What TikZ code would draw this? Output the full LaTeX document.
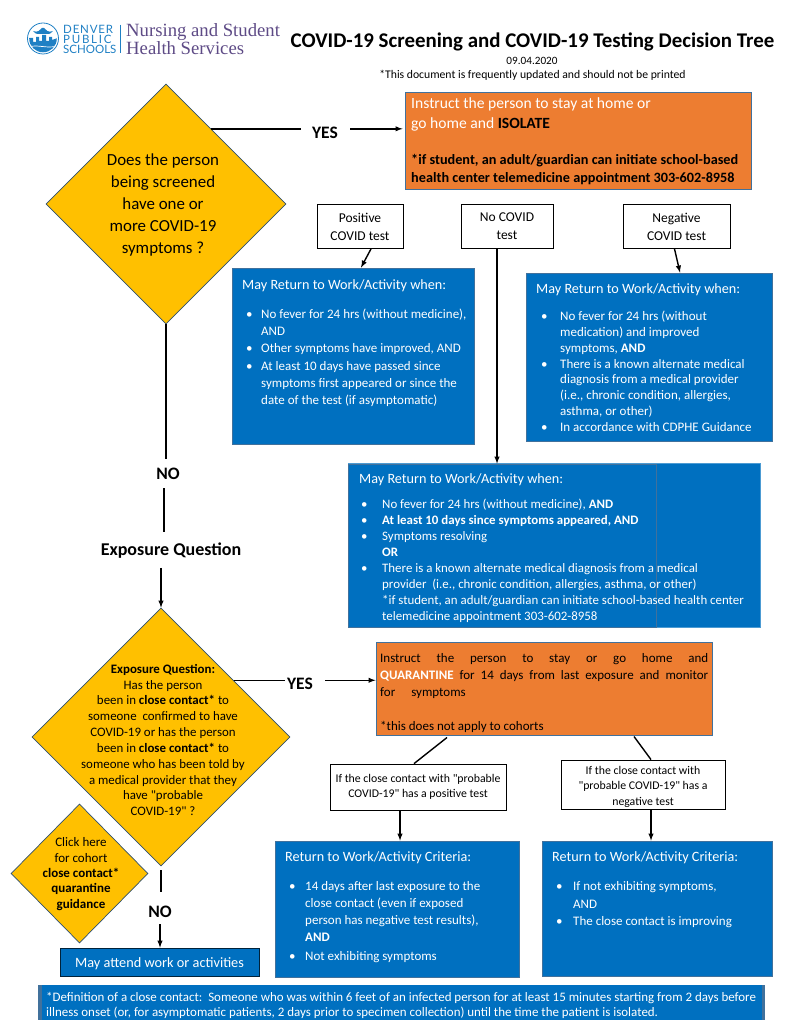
\documentclass[tikz,border=0pt]{standalone}
\usepackage{fontspec}
\setmainfont{Carlito}[Ligatures=TeXOff]
\newfontfamily\LOGOSANS{Lato}
\newfontfamily\LOGOSERIF{Liberation Serif}
\usetikzlibrary{shapes.geometric}
\definecolor{boxblue}{HTML}{0070C0}
\definecolor{boxedge}{HTML}{41719C}
\definecolor{boxorange}{HTML}{ED7D31}
\definecolor{boxgold}{HTML}{FFC000}
\definecolor{logoblue}{HTML}{1F80C4}
\definecolor{logopurple}{HTML}{5E4B86}
\newcommand{\BUL}[2]{\par\raggedright\spaceskip=.226em\hangindent=#1pt\hangafter=1\noindent\hbox to #1pt{\textbullet\hfil}#2\par}
\tikzset{
	bluebox/.style={rectangle,draw=boxedge,fill=boxblue,line width=0.8pt,inner sep=0pt},
	orangebox/.style={rectangle,draw=boxedge,fill=boxorange,line width=1pt,inner sep=0pt},
	whitebox/.style={rectangle,draw=black,fill=white,line width=0.8pt,inner sep=0pt,align=center,font=\fontsize{11.8}{15.5}\selectfont},
	testbox/.style={whitebox,minimum height=44pt,font=\fontsize{13.5}{18}\selectfont},
	goldgem/.style={diamond,draw=boxedge!70!black,fill=boxgold,line width=0.7pt,inner sep=0pt,aspect=1},
	bluetext/.style={anchor=north west,inner sep=0pt,text=white,align=left},
	listtext/.style={anchor=north west,inner sep=0pt,text=white},
	headtext/.style={bluetext,font=\fontsize{14.2}{17}\selectfont},
	gemtext/.style={inner sep=0pt,align=center,text=black},
	flowlabel/.style={inner sep=0pt,font=\fontsize{17.5}{20}\selectfont\bfseries},
	plainline/.style={draw=black,line width=1.4pt},
	arrowline/.style={draw=black,line width=1.4pt,-latex},
}
\begin{document}
\begin{tikzpicture}[x=1pt,y=-1pt]
	\useasboundingbox (0,0) rectangle (791,1024);

	% logo
	\node[circle,draw=logoblue,line width=0.8pt,minimum size=31pt,inner sep=0pt] (logoring) at (43,38.5) {};
	\begin{scope}
		\clip (43,38.5) circle (13.8);
		\fill[logoblue] (28,38) -- (33,38) -- (33,42) -- (36,42) -- (36,37) -- (39,37) -- (39,41) -- (42,41) -- (42,35) -- (46,35) -- (46,41) -- (49,41) -- (49,37) -- (52,37) -- (52,40) -- (58,38) -- (58,55) -- (28,55) -- cycle;
		\draw[white,line width=0.7pt] (29,47) .. controls (37,44) and (47,49) .. (57,46);
	\end{scope}
	\fill[logoblue] (33,31) .. controls (38,33) and (40,30) .. (42,28) -- (44,28) .. controls (46,30) and (48,33) .. (53,31) .. controls (50,35) and (47,34) .. (45,34) -- (41,34) .. controls (39,34) and (36,35) .. (33,31) -- cycle;
	\node[inner sep=0pt,anchor=west,text=logoblue,font=\fontsize{11.5}{9.9}\selectfont,align=left] (logoname) at (63,39.5) {{\LOGOSANS\addfontfeature{LetterSpace=7}DENVER}\\{\LOGOSANS\addfontfeature{LetterSpace=15}PUBLIC}\\{\LOGOSANS SCHOOLS}};
	\node[inner sep=0pt,anchor=west,text=logopurple,font=\LOGOSERIF\fontsize{18.7}{18.5}\selectfont,align=left] (logounit) at (126,39) {Nursing and Student\\Health Services};
	\draw[logoblue,line width=0.6pt] ([xshift=-6pt]logounit.west |- logoring.north) ++(0,2) -- ++(0,28);

	% title
	\node[inner sep=0pt,font=\fontsize{20.9}{24}\selectfont\bfseries] (title) at (532.5,41.5) {COVID-19 Screening and COVID-19 Testing Decision Tree};
	\node[inner sep=0pt,font=\fontsize{11.2}{13}\selectfont] (date) at (532,60.5) {09.04.2020};
	\node[inner sep=0pt,font=\fontsize{11.7}{13}\selectfont] (note) at (532.5,75) {*This document is frequently updated and should not be printed};

	% first question
	\node[goldgem,minimum width=240pt,minimum height=240pt] (symptoms) at (166,204) {};
	\node[gemtext,font=\fontsize{16.9}{21.8}\selectfont] (symptomstext) at (163,205) {Does the person\\being screened\\have one or\\more COVID-19\\symptoms ?};
	\node[flowlabel] (yesone) at (325,133) {YES};
	\node[orangebox,minimum width=346pt,minimum height=97pt] (isolate) at (578,141.5) {};
	\node[bluetext,font=\fontsize{15.6}{20.8}\selectfont] (isolatetop) at (411,97) {Instruct the person to stay at home or\\go home and \textcolor{black}{\textbf{ISOLATE}}};
	\node[bluetext,text=black,font=\fontsize{14.25}{18}\selectfont\bfseries] (isolatebot) at (411,154) {*if student, an adult/guardian can initiate school-based\\health center telemedicine appointment 303-602-8958};

	% test results
	\node[testbox,minimum width=86pt] (postest) at (360,226.5) {Positive\\COVID test};
	\node[testbox,minimum width=92pt] (notest) at (507,226.5) {No COVID\\test};
	\node[testbox,minimum width=107pt] (negtest) at (676.5,226.5) {Negative\\COVID test};

	% return boxes
	\node[bluebox,minimum width=242pt,minimum height=176pt] (retpos) at (353,356) {};
	\node[headtext] (retposhead) at (242,279) {May Return to Work/Activity when:};
	\node[listtext,text width=225pt,font=\fontsize{13}{17.2}\selectfont] (retpostext) at (246,301) {%
		\BUL{15}{No fever for 24 hrs (without medicine),\newline AND}
		\BUL{15}{Other symptoms have improved, AND}
		\BUL{15}{At least 10 days have passed since\newline symptoms first appeared or since the\newline date of the test (if asymptomatic)}};

	\node[bluebox,minimum width=246pt,minimum height=168pt] (retneg) at (649,357) {};
	\node[headtext] (retneghead) at (536,283) {May Return to Work/Activity when:};
	\node[listtext,text width=229pt,font=\fontsize{13}{15.75}\selectfont] (retnegtext) at (541,305) {%
		\BUL{19}{No fever for 24 hrs (without\newline medication) and improved\newline symptoms, \textbf{AND}}
		\BUL{19}{There is a known alternate medical\newline diagnosis from a medical provider\newline (i.e., chronic condition, allergies,\newline asthma, or other)}
		\BUL{19}{In accordance with CDPHE Guidance}};

	\node[rectangle,fill=boxblue,draw=boxblue!70!white,line width=0.6pt,minimum width=412pt,minimum height=164pt,inner sep=0pt] (retnoback) at (554,545.5) {};
	\node[bluebox,minimum width=308pt,minimum height=163pt] (retno) at (502,545.5) {};
	\node[headtext] (retnohead) at (359,473) {May Return to Work/Activity when:};
	\node[listtext,text width=396pt,font=\fontsize{12.9}{16}\selectfont] (retnotext) at (361,492) {%
		\BUL{21}{No fever for 24 hrs (without medicine), \textbf{AND}}
		\BUL{21}{\textbf{At least 10 days since symptoms appeared, AND}}
		\BUL{21}{Symptoms resolving\newline\textbf{OR}}
		\BUL{21}{There is a known alternate medical diagnosis from a medical\newline provider\ \ (i.e., chronic condition, allergies, asthma, or other)\newline *if student, an adult/guardian can initiate school-based health center\newline telemedicine appointment 303-602-8958}};

	% first branch down
	\node[flowlabel] (noone) at (168,474) {NO};
	\node[inner sep=0pt,font=\fontsize{18}{20}\selectfont\bfseries] (exposurelabel) at (171,551) {Exposure Question};

	% second question
	\node[goldgem,minimum width=258pt,minimum height=258pt] (exposure) at (161,737) {};
	\node[gemtext,font=\fontsize{12.9}{15.8}\selectfont] (exposuretext) at (163,740) {\textbf{Exposure Question:}\\Has the person\\been in \textbf{close contact*} to\\someone\ \ confirmed to have\\COVID-19 or has the person\\been in \textbf{close contact*} to\\someone who has been told by\\a medical provider that they\\have "probable\\COVID-19" ?};
	\node[flowlabel] (yestwo) at (300,684) {YES};
	\node[orangebox,minimum width=336pt,minimum height=93pt] (quarantine) at (544,688.5) {};
	\node[bluetext,text=black,font=\fontsize{13}{17}\selectfont] (quarantinetext) at (380,653.5) {%
		\makebox[328pt][s]{Instruct the person to stay or go home and}\\
		\makebox[328pt][s]{\textcolor{white}{\textbf{QUARANTINE}} for 14 days from last exposure and monitor}\\
		for\hspace{16pt}symptoms\\[17pt]
		*this does not apply to cohorts};

	\node[whitebox,minimum width=176pt,minimum height=46pt] (probpos) at (418,787) {If the close contact with "probable\\COVID-19" has a positive test};
	\node[whitebox,minimum width=164pt,minimum height=49pt] (probneg) at (643,784.5) {};
	\node[gemtext,font=\fontsize{11.8}{15.5}\selectfont] (probnegtext) at (643,786.5) {If the close contact with\\"probable COVID-19" has a\\negative test};

	\node[bluebox,minimum width=244pt,minimum height=136pt] (critpos) at (397,909) {};
	\node[headtext] (critposhead) at (285,851) {Return to Work/Activity Criteria:};
	\node[listtext,text width=225pt,font=\fontsize{13}{17}\selectfont] (critpostext) at (289,873) {%
		\BUL{16}{14 days after last exposure to the\newline close contact (even if exposed\newline person has negative test results),\newline\textbf{AND}}
		\vspace{2pt}
		\BUL{16}{Not exhibiting symptoms}};

	\node[bluebox,minimum width=230pt,minimum height=135pt] (critneg) at (657,908.5) {};
	\node[headtext] (critneghead) at (552,851) {Return to Work/Activity Criteria:};
	\node[listtext,text width=210pt,font=\fontsize{13}{17.5}\selectfont] (critnegtext) at (556,873) {%
		\BUL{17}{If not exhibiting symptoms,\newline AND}
		\BUL{17}{The close contact is improving}};

	% cohort and last steps
	\node[goldgem,minimum width=137pt,minimum height=139pt] (cohort) at (79.5,873.5) {};
	\node[gemtext,font=\fontsize{13}{15.4}\selectfont] (cohorttext) at (81,874) {Click here\\for cohort\\\textbf{close contact*}\\\textbf{quarantine}\\\textbf{guidance}};
	\node[flowlabel] (notwo) at (160,912) {NO};
	\node[bluebox,draw=black!70!boxblue,minimum width=199pt,minimum height=28pt] (attend) at (159.5,962) {};
	\node[bluetext,anchor=center,font=\fontsize{14.3}{17}\selectfont] (attendtext) at (159.5,964) {May attend work or activities};

	\node[rectangle,fill=boxblue,minimum width=727pt,minimum height=35pt,inner sep=0pt] (closedef) at (401.5,1002.5) {};
	\fill[boxedge] (closedef.north west) rectangle ++(4,35);
	\fill[boxedge] (closedef.north east) rectangle ++(-3,35);
	\node[bluetext,font=\fontsize{12.95}{15.2}\selectfont] (closedeftext) at (46,992) {*Definition of a close contact:\ \ Someone who was within 6 feet of an infected person for at least 15 minutes starting from 2 days before\\illness onset (or, for asymptomatic patients, 2 days prior to specimen collection) until the time the patient is isolated.};

	% connectors
	\draw[plainline,shorten >=11pt] (symptoms.59) -- (symptoms.59 -| yesone.west);
	\draw[arrowline,shorten <=12pt,shorten >=2pt] (symptoms.59 -| yesone.east) -- (symptoms.59 -| isolate.west);
	\draw[arrowline] ([xshift=11pt]postest.south) -- ([xshift=8pt]retpos.north);
	\draw[arrowline] ([xshift=-10pt]notest.south) -- ([xshift=-10pt]notest.south |- retno.north);
	\draw[arrowline] ([xshift=-2pt]negtest.south) -- ([xshift=31pt]retneg.north);
	\draw[plainline,shorten >=9pt] (symptoms.south) -- (symptoms.south |- noone.north);
	\draw[plainline,shorten <=8pt,shorten >=11pt] ([xshift=-4pt]noone.south) -- ([xshift=-4pt]noone.south |- exposurelabel.north);
	\draw[arrowline,shorten <=9pt] (exposure.north |- exposurelabel.south) -- (exposure.north);
	\draw[plainline,shorten >=2pt] (exposure.38) -- (exposure.38 -| yestwo.west);
	\draw[arrowline,shorten <=12pt] (exposure.38 -| yestwo.east) -- (exposure.38 -| quarantine.west);
	\draw[plainline] ([xshift=-97pt,yshift=-2pt]quarantine.south) -- ([xshift=-4pt]probpos.north);
	\draw[plainline] ([xshift=90pt,yshift=-1pt]quarantine.south) -- ([xshift=8pt]probneg.north);
	\draw[arrowline] ([xshift=-18pt]probpos.south) -- ([xshift=-18pt]probpos.south |- critpos.north);
	\draw[arrowline] ([xshift=8pt]probneg.south) -- ([xshift=8pt]probneg.south |- critneg.north);
	\draw[plainline,shorten <=4pt,shorten >=14pt] (exposure.south) -- (exposure.south |- notwo.north);
	\draw[arrowline,shorten <=6pt] (notwo.south) -- (notwo.south |- attend.north);
\end{tikzpicture}
\end{document}
